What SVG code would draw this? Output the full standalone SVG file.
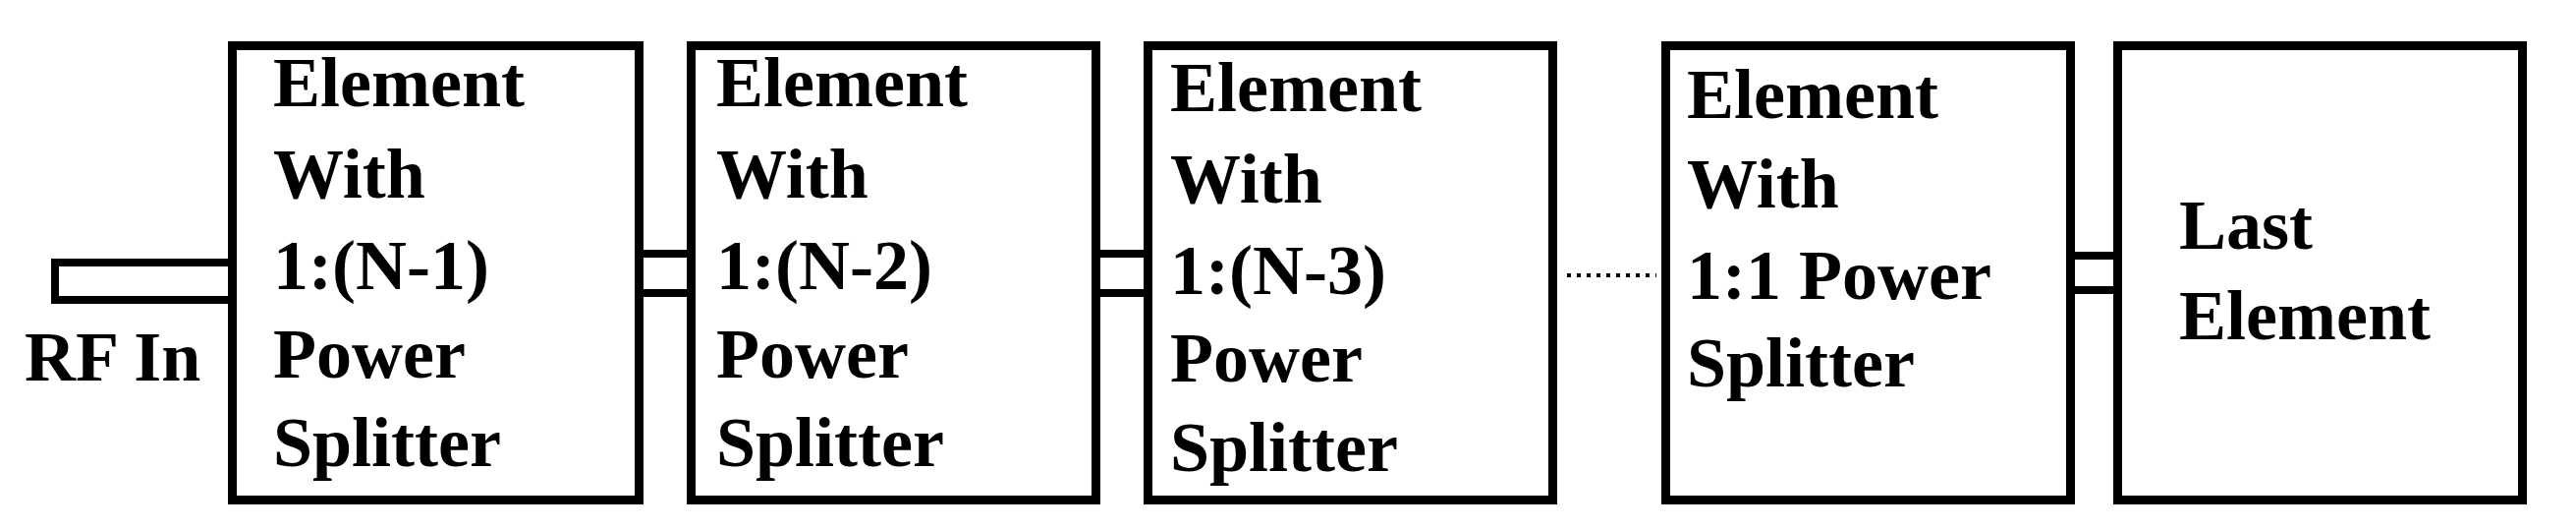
<svg xmlns="http://www.w3.org/2000/svg" width="2622" height="539" viewBox="0 0 2622 539">
<style>
.b{fill:#fff;stroke:#000;stroke-width:9}
.c{fill:#fff;stroke:#000;stroke-width:8}
text{font-family:"Liberation Serif","Times New Roman",serif;font-weight:bold;font-size:72px;fill:#000}
</style>
<rect width="2622" height="539" fill="#fff"/>
<g id="connectors">
<rect class="c" x="56" y="267" width="180" height="38"/>
<rect class="c" x="650" y="258" width="54" height="40"/>
<rect class="c" x="1115" y="258" width="54" height="40"/>
<rect class="c" x="2107" y="260" width="49" height="35"/>
<line x1="1595" y1="280" x2="1686" y2="280" stroke="#000" stroke-width="4" stroke-dasharray="4,6"/>
</g>
<g id="rfin"><text x="25" y="387">RF In</text></g>
<g id="n1"><rect class="b" x="236.5" y="46.5" width="414" height="462"/>
<text x="278"><tspan x="278" y="108">Element</tspan><tspan x="278" y="201">With</tspan><tspan x="278" y="294">1:(N-1)</tspan><tspan x="278" y="384">Power</tspan><tspan x="278" y="474">Splitter</tspan></text></g>
<g id="n2"><rect class="b" x="703.5" y="46.5" width="412" height="462"/>
<text><tspan x="729" y="108">Element</tspan><tspan x="729" y="201">With</tspan><tspan x="729" y="294">1:(N-2)</tspan><tspan x="729" y="384">Power</tspan><tspan x="729" y="474">Splitter</tspan></text></g>
<g id="n3"><rect class="b" x="1168.5" y="46.5" width="412" height="462"/>
<text><tspan x="1191" y="113">Element</tspan><tspan x="1191" y="206">With</tspan><tspan x="1191" y="299">1:(N-3)</tspan><tspan x="1191" y="388">Power</tspan><tspan x="1191" y="479">Splitter</tspan></text></g>
<g id="n4"><rect class="b" x="1695.5" y="46.5" width="412" height="462"/>
<text><tspan x="1717" y="120">Element</tspan><tspan x="1717" y="211">With</tspan><tspan x="1717" y="304">1:1 Power</tspan><tspan x="1717" y="393">Splitter</tspan></text></g>
<g id="n5"><rect class="b" x="2155.5" y="46.5" width="412" height="462"/>
<text><tspan x="2218" y="253">Last</tspan><tspan x="2218" y="345">Element</tspan></text></g>
</svg>
